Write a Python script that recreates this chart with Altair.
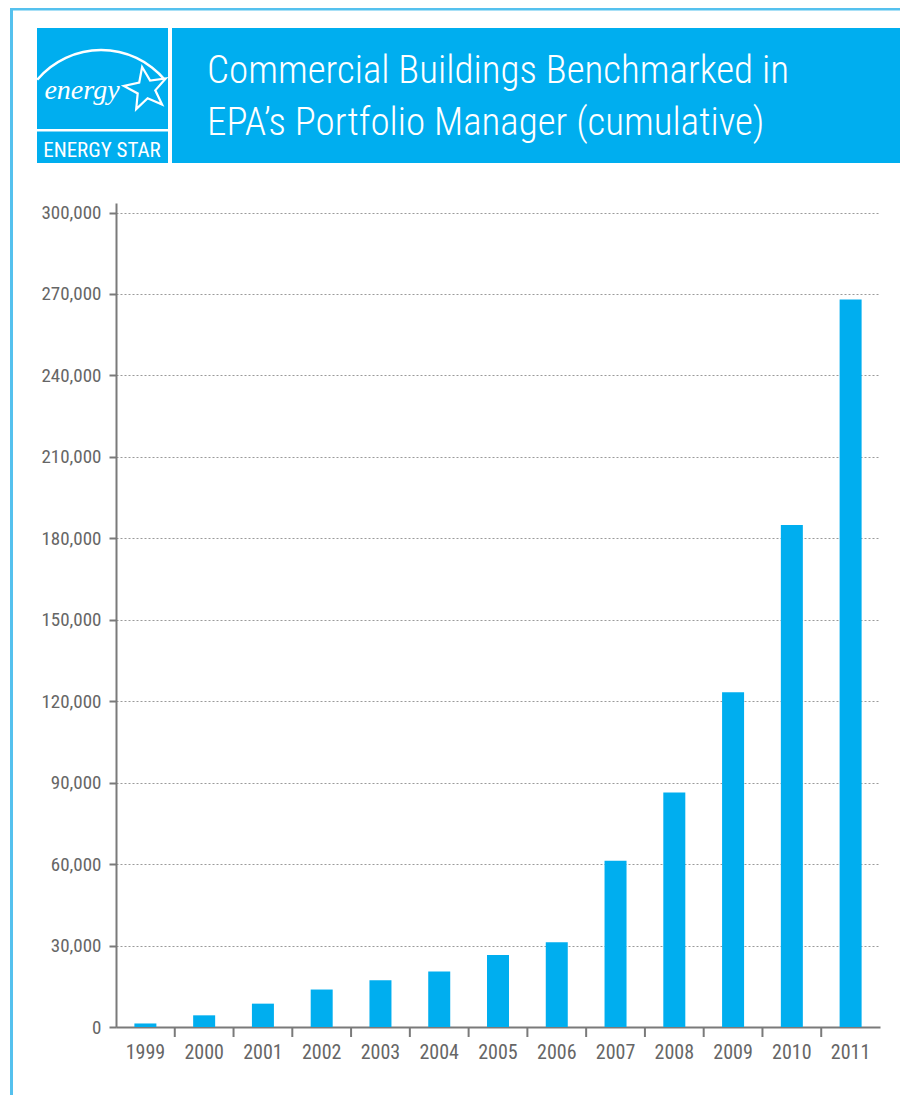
import altair as alt
import pandas as pd

# ---- data ----
years = ["1999", "2000", "2001", "2002", "2003", "2004", "2005",
         "2006", "2007", "2008", "2009", "2010", "2011"]
buildings = [1300, 4300, 8600, 13800, 17200, 20400, 26500,
             31200, 61200, 86400, 123300, 184900, 268000]
y_ticks = [0, 30000, 60000, 90000, 120000, 150000, 180000,
           210000, 240000, 270000, 300000]

title_line1 = "Commercial Buildings Benchmarked in"
title_line2 = "EPA\u2019s Portfolio Manager (cumulative)"
logo_word = "energy"
logo_label = "ENERGY STAR"

df = pd.DataFrame({"year": years, "buildings": buildings})
one = pd.DataFrame({"k": [0]})

BLUE = "#00AEEF"
FRAME = "#55C1EE"
AXIS = "#7a7a7a"
LABEL = "#666666"
NARROW = "Roboto Condensed, Liberation Sans Narrow, DejaVu Sans Condensed, sans-serif"

W, H = 764, 824

xscale = alt.Scale(paddingInner=0, paddingOuter=0)
yscale = alt.Scale(domain=[0, 303500], nice=False, zero=True)

bars = alt.Chart(df).mark_bar(size=22, color=BLUE).encode(
    x=alt.X("year:N", scale=xscale, sort=years,
            axis=alt.Axis(title=None, ticks=False, grid=False, labelAngle=0,
                          labelFont=NARROW, labelFontSize=20, labelColor=LABEL,
                          labelPadding=15, labelOverlap=False,
                          domainColor=AXIS, domainWidth=2)),
    y=alt.Y("buildings:Q", scale=yscale,
            axis=alt.Axis(title=None, values=y_ticks, format=",.0f",
                          grid=True, gridColor="#9a9a9a", gridDash=[2, 2], gridWidth=1,
                          tickSize=7, tickColor=AXIS, tickWidth=2,
                          labelFont=NARROW, labelFontSize=19, labelColor=LABEL,
                          labelPadding=8, labelOverlap=False,
                          domainColor=AXIS, domainWidth=2)),
)

xticks = alt.Chart(df).transform_filter(
    alt.datum.year != "1999"
).mark_rule(color=AXIS, strokeWidth=2).encode(
    x=alt.X("year:N", sort=years, bandPosition=0),
    y=alt.value(H),
    y2=alt.value(H + 10),
)

# ---- header / frame decorations (pixel offsets relative to plot origin) ----
def rect(x, x2, y, y2, color):
    return alt.Chart(one).mark_rect(color=color).encode(
        x=alt.value(x), x2=alt.value(x2), y=alt.value(y), y2=alt.value(y2))

frame_left = rect(-106, -103, -195, 900, FRAME)
frame_top = rect(-106, 800, -195, -192.5, FRAME)
header = rect(-79, 785, -175, -40, BLUE)
sep_v = rect(52, 56, -176, -39, "white")
sep_h = rect(-79, 52, -74, -71.5, "white")

arc = alt.Chart(one).mark_arc(
    radius=84.5, radius2=82, theta=5.41, theta2=7.16, color="white"
).encode(x=alt.value(-15), y=alt.value(-69.7))

star_path = ("M0,-1 L0.247,-0.340 L0.951,-0.309 L0.399,0.130 L0.588,0.809 "
             "L0,0.42 L-0.588,0.809 L-0.399,0.130 L-0.951,-0.309 L-0.247,-0.340 Z")
star = alt.Chart(one).mark_point(
    shape=star_path, size=2000, filled=False, stroke="white", strokeWidth=2.2,
    opacity=1, angle=350
).encode(x=alt.value(30), y=alt.value(-114))

word = alt.Chart(one).mark_text(
    text=logo_word, font="Liberation Serif, DejaVu Serif, serif", fontStyle="italic",
    fontSize=28, color="white", align="center", baseline="alphabetic"
).encode(x=alt.value(-34), y=alt.value(-104))

label = alt.Chart(one).mark_text(
    text=logo_label, font=NARROW, fontSize=21, color="white",
    align="center", baseline="alphabetic"
).encode(x=alt.value(-14), y=alt.value(-46))

t1 = alt.Chart(one).mark_text(
    text=title_line1, font=NARROW, fontSize=39, fontWeight=300, color="white",
    align="left", baseline="alphabetic"
).encode(x=alt.value(91), y=alt.value(-120))

t2 = alt.Chart(one).mark_text(
    text=title_line2, font=NARROW, fontSize=39, fontWeight=300, color="white",
    align="left", baseline="alphabetic"
).encode(x=alt.value(91), y=alt.value(-68))

chart = alt.layer(
    frame_left, frame_top, header, sep_v, sep_h, arc, star, word, label, t1, t2,
    bars, xticks
).properties(
    width=W, height=H,
    autosize=alt.AutoSizeParams(type="none"),
    padding={"left": 108, "top": 195, "right": 20, "bottom": 68},
    background="white",
).configure_view(stroke=None)

chart.save("out.html", embed_options={"renderer": "svg", "actions": False})
